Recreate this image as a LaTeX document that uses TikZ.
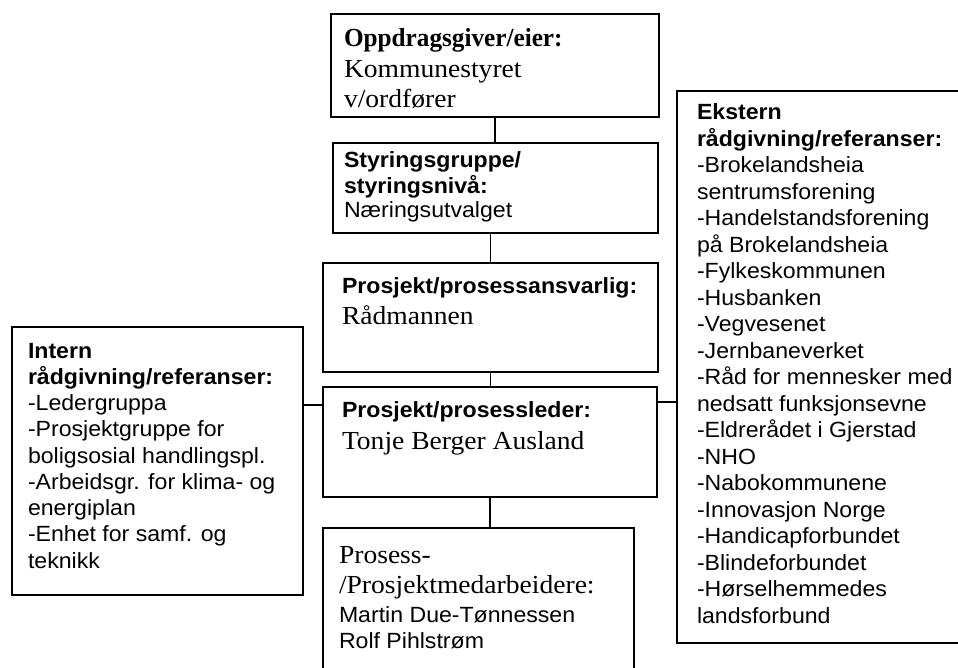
\documentclass[tikz,border=0pt]{standalone}
\usepackage{fontspec}
\setmainfont{Liberation Serif}
\newfontfamily\sansf[FakeStretch=1.05]{Liberation Sans}
\newfontfamily\serifr[FakeStretch=1.06]{Liberation Serif}
\newfontfamily\serifb[FakeStretch=0.97]{Liberation Serif}
\newcommand\SB[1]{{\sansf\bfseries\fontsize{22}{24}\selectfont #1}}
\newcommand\SR[1]{{\sansf\fontsize{22}{24}\selectfont #1}}
\newcommand\TB[1]{{\serifb\bfseries\fontsize{26}{30}\selectfont #1}}
\newcommand\TR[1]{{\serifr\fontsize{26}{30}\selectfont #1}}
\newcommand\txtl[2]{{#1\begin{tabular}[t]{@{}l@{}}#2\end{tabular}}}
\tikzset{
  box/.style={draw=black, line width=1.8pt, rectangle, inner sep=0pt},
  txt/.style={anchor=base west, inner sep=0pt, outer sep=0pt},
  link/.style={draw=black, line width=1.8pt}
}
\begin{document}
\begin{tikzpicture}[x=1pt, y=-1pt]
\useasboundingbox (0,0) rectangle (958,668);
\fill[white] (0,0) rectangle (958,668);
% boxes
\node[box, minimum width=328, minimum height=103] (b1) at (495,65.5) {};
\node[box, minimum width=325, minimum height=90] (b2) at (495.5,188) {};
\node[box, minimum width=335, minimum height=109] (b3) at (490.5,317.5) {};
\node[box, minimum width=334, minimum height=110] (b4) at (490,442) {};
\node[box, minimum width=311, minimum height=172] (b5) at (478.5,614) {};
\node[box, minimum width=291, minimum height=268] (intern) at (157.5,461) {};
\node[box, minimum width=298, minimum height=552] (ext) at (826,367) {};
% texts
\node[txt] (t1) at (344,47) {\txtl{\fontsize{24}{30.5}\selectfont}{\TB{Oppdragsgiver/eier:}\\ \TR{Kommunestyret}\\ \TR{v/ordfører}}};
\node[txt] (t2) at (344,168) {\txtl{\sansf\fontsize{22}{24.5}\selectfont}{\SB{Styringsgruppe/}\\ \SB{styringsnivå:}\\ \SR{Næringsutvalget}}};
\node[txt] (t3) at (342,294) {\txtl{\fontsize{24}{31}\selectfont}{\SB{Prosjekt/prosessansvarlig:}\\ \TR{Rådmannen}}};
\node[txt] (t4) at (342,417) {\txtl{\fontsize{24}{32}\selectfont}{\SB{Prosjekt/prosessleder:}\\ \TR{Tonje Berger Ausland}}};
\node[txt] (t5) at (339,563) {\txtl{\fontsize{24}{26}\selectfont}{\TR{Prosess-}\\[4pt] \TR{/Prosjektmedarbeidere:}\\[3pt] \SR{Martin Due-Tønnessen}\\ \SR{Rolf Pihlstrøm}}};
\node[txt] (t6) at (28,358) {\txtl{\sansf\fontsize{22}{26.25}\selectfont}{\SB{Intern}\\ \SB{rådgivning/referanser:}\\ -Ledergruppa\\ -Prosjektgruppe for\\ boligsosial handlingspl.\\ -Arbeidsgr. for klima- og\\ energiplan\\ -Enhet for samf. og\\ teknikk}};
\node[txt] (t7) at (697,120) {\txtl{\sansf\fontsize{22}{26.5}\selectfont}{\SB{Ekstern}\\ \SB{rådgivning/referanser:}\\ -Brokelandsheia\\ sentrumsforening\\ -Handelstandsforening\\ på Brokelandsheia\\ -Fylkeskommunen\\ -Husbanken\\ -Vegvesenet\\ -Jernbaneverket\\ -Råd for mennesker med\\ nedsatt funksjonsevne\\ -Eldrerådet i Gjerstad\\ -NHO\\ -Nabokommunene\\ -Innovasjon Norge\\ -Handicapforbundet\\ -Blindeforbundet\\ -Hørselhemmedes\\ landsforbund}};
% connectors
\coordinate (hl) at (0,405);
\coordinate (hr) at (0,402);
\draw[link] (b1.south) -- (b1.south |- b2.north);
\draw[link] (b3.north) -- (b3.north |- b2.south);
\draw[link] (b3.south) -- (b3.south |- b4.north);
\draw[link] (b4.south) -- (b4.south |- b5.north);
\draw[link] (intern.east |- hl) -- (b4.west |- hl);
\draw[link] (b4.east |- hr) -- (ext.west |- hr);
\end{tikzpicture}
\end{document}
